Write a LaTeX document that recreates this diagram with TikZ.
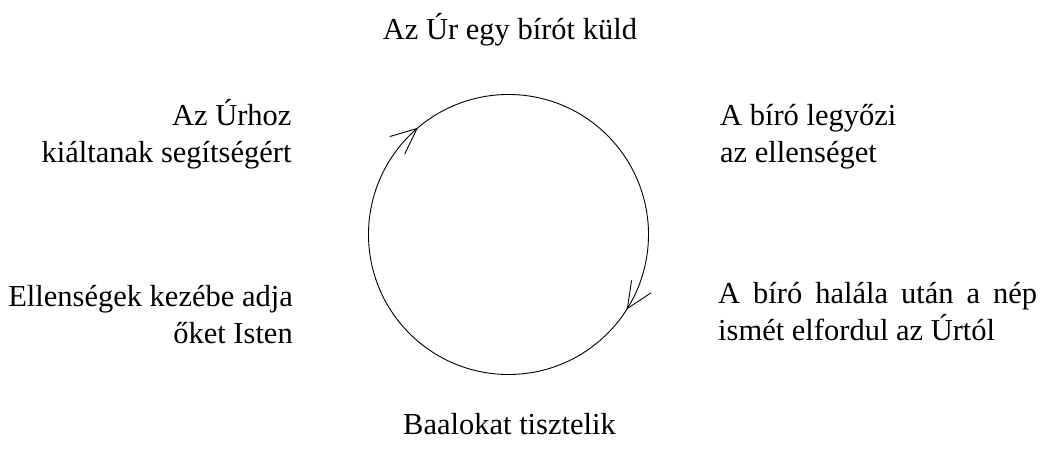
\documentclass[tikz,border=0pt]{standalone}
\usepackage{fontspec}
\setmainfont{Liberation Serif}
\usepackage{tikz}
\usetikzlibrary{arrows.meta, decorations.markings}

\begin{document}
\begin{tikzpicture}[
  x=1pt, y=1pt,
  lbl/.style={inner sep=0pt, font=\fontsize{30.5}{37}\selectfont},
  barb/.tip={Straight Barb[length=26pt, width=23pt]},
  ring/.style={line width=0.9pt, postaction={decorate},
    decoration={markings,
      mark=at position 0.362 with {\arrowreversed{barb}},
      mark=at position 0.910 with {\arrowreversed{barb}}}},
]
\useasboundingbox (-508.5,-214.5) rectangle (536.5,234.5);

% === The cycle ===
\coordinate (c) at (0,0);
\draw[ring] (c) circle[radius=140];

% === Top and bottom ===
\node[lbl, anchor=base] (send) at (1.5,195.2) {Az Úr egy bírót küld};
\node[lbl, anchor=base] (baal) at (1,-200.5) {Baalokat tisztelik};

% === Left side (base = last line) ===
\node[lbl, align=right, anchor=base east] (cry) at (-216.8,71.8) {Az Úrhoz\\kiáltanak segítségért};
\node[lbl, align=right, anchor=base east] (enemy) at (-215.5,-108.8) {Ellenségek kezébe adja\\őket Isten};

% === Right side ===
\node[lbl, align=left, anchor=base west] (win) at (211.5,71.8) {A bíró legyőzi\\az ellenséget};
\node[lbl, text width=319pt, align=justify, anchor=base west] (turn) at (209.5,-68.8) {A bíró halála után a nép\linebreak ismét elfordul az Úrtól};
\end{tikzpicture}
\end{document}
